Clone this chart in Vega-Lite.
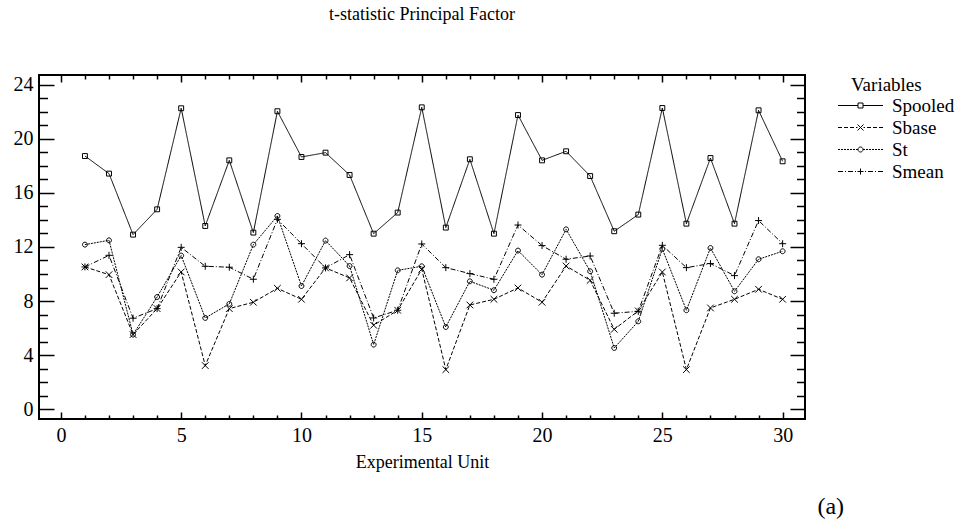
{
  "$schema": "https://vega.github.io/schema/vega-lite/v6.json",
  "width": 766,
  "height": 344,
  "autosize": {"type": "none"},
  "padding": {"left": 39, "top": 75, "right": 152, "bottom": 109},
  "background": "white",
  "config": {
    "view": {"stroke": "black", "strokeWidth": 2},
    "axis": {"grid": false, "domain": false, "tickColor": "black", "labelColor": "black", "titleColor": "black", "labelFont": "Liberation Serif", "titleFont": "Liberation Serif", "tickWidth": 1.5, "labelOverlap": false, "labelFlush": false}
  },
  "title": {"text": "t-statistic Principal Factor", "font": "Liberation Serif", "fontSize": 18, "fontWeight": "normal", "color": "black", "anchor": "middle", "offset": 50},
  "data": {"values": [
    {"unit":1,"variable":"Spooled","value":18.72},{"unit":2,"variable":"Spooled","value":17.42},{"unit":3,"variable":"Spooled","value":12.91},{"unit":4,"variable":"Spooled","value":14.78},{"unit":5,"variable":"Spooled","value":22.25},{"unit":6,"variable":"Spooled","value":13.55},{"unit":7,"variable":"Spooled","value":18.40},{"unit":8,"variable":"Spooled","value":13.06},{"unit":9,"variable":"Spooled","value":22.03},{"unit":10,"variable":"Spooled","value":18.65},
    {"unit":11,"variable":"Spooled","value":18.97},{"unit":12,"variable":"Spooled","value":17.32},{"unit":13,"variable":"Spooled","value":12.98},{"unit":14,"variable":"Spooled","value":14.54},{"unit":15,"variable":"Spooled","value":22.32},{"unit":16,"variable":"Spooled","value":13.43},{"unit":17,"variable":"Spooled","value":18.48},{"unit":18,"variable":"Spooled","value":12.98},{"unit":19,"variable":"Spooled","value":21.75},{"unit":20,"variable":"Spooled","value":18.40},
    {"unit":21,"variable":"Spooled","value":19.07},{"unit":22,"variable":"Spooled","value":17.24},{"unit":23,"variable":"Spooled","value":13.16},{"unit":24,"variable":"Spooled","value":14.39},{"unit":25,"variable":"Spooled","value":22.27},{"unit":26,"variable":"Spooled","value":13.72},{"unit":27,"variable":"Spooled","value":18.57},{"unit":28,"variable":"Spooled","value":13.72},{"unit":29,"variable":"Spooled","value":22.10},{"unit":30,"variable":"Spooled","value":18.33},
    {"unit":1,"variable":"Sbase","value":10.52},{"unit":2,"variable":"Sbase","value":9.95},{"unit":3,"variable":"Sbase","value":5.52},{"unit":4,"variable":"Sbase","value":7.44},{"unit":5,"variable":"Sbase","value":10.15},{"unit":6,"variable":"Sbase","value":3.23},{"unit":7,"variable":"Sbase","value":7.44},{"unit":8,"variable":"Sbase","value":7.91},{"unit":9,"variable":"Sbase","value":8.94},{"unit":10,"variable":"Sbase","value":8.13},
    {"unit":11,"variable":"Sbase","value":10.45},{"unit":12,"variable":"Sbase","value":9.71},{"unit":13,"variable":"Sbase","value":6.21},{"unit":14,"variable":"Sbase","value":7.32},{"unit":15,"variable":"Sbase","value":10.35},{"unit":16,"variable":"Sbase","value":2.93},{"unit":17,"variable":"Sbase","value":7.71},{"unit":18,"variable":"Sbase","value":8.13},{"unit":19,"variable":"Sbase","value":8.97},{"unit":20,"variable":"Sbase","value":7.91},
    {"unit":21,"variable":"Sbase","value":10.59},{"unit":22,"variable":"Sbase","value":9.53},{"unit":23,"variable":"Sbase","value":5.91},{"unit":24,"variable":"Sbase","value":7.27},{"unit":25,"variable":"Sbase","value":10.15},{"unit":26,"variable":"Sbase","value":2.93},{"unit":27,"variable":"Sbase","value":7.49},{"unit":28,"variable":"Sbase","value":8.13},{"unit":29,"variable":"Sbase","value":8.87},{"unit":30,"variable":"Sbase","value":8.13},
    {"unit":1,"variable":"St","value":12.17},{"unit":2,"variable":"St","value":12.49},{"unit":3,"variable":"St","value":5.52},{"unit":4,"variable":"St","value":8.30},{"unit":5,"variable":"St","value":11.36},{"unit":6,"variable":"St","value":6.75},{"unit":7,"variable":"St","value":7.79},{"unit":8,"variable":"St","value":12.17},{"unit":9,"variable":"St","value":14.29},{"unit":10,"variable":"St","value":9.11},
    {"unit":11,"variable":"St","value":12.47},{"unit":12,"variable":"St","value":10.59},{"unit":13,"variable":"St","value":4.78},{"unit":14,"variable":"St","value":10.27},{"unit":15,"variable":"St","value":10.57},{"unit":16,"variable":"St","value":6.08},{"unit":17,"variable":"St","value":9.46},{"unit":18,"variable":"St","value":8.80},{"unit":19,"variable":"St","value":11.73},{"unit":20,"variable":"St","value":9.95},
    {"unit":21,"variable":"St","value":13.30},{"unit":22,"variable":"St","value":10.20},{"unit":23,"variable":"St","value":4.53},{"unit":24,"variable":"St","value":6.50},{"unit":25,"variable":"St","value":11.85},{"unit":26,"variable":"St","value":7.32},{"unit":27,"variable":"St","value":11.92},{"unit":28,"variable":"St","value":8.72},{"unit":29,"variable":"St","value":11.09},{"unit":30,"variable":"St","value":11.68},
    {"unit":1,"variable":"Smean","value":10.52},{"unit":2,"variable":"Smean","value":11.38},{"unit":3,"variable":"Smean","value":6.73},{"unit":4,"variable":"Smean","value":7.44},{"unit":5,"variable":"Smean","value":11.97},{"unit":6,"variable":"Smean","value":10.57},{"unit":7,"variable":"Smean","value":10.50},{"unit":8,"variable":"Smean","value":9.61},{"unit":9,"variable":"Smean","value":14.04},{"unit":10,"variable":"Smean","value":12.24},
    {"unit":11,"variable":"Smean","value":10.45},{"unit":12,"variable":"Smean","value":11.43},{"unit":13,"variable":"Smean","value":6.75},{"unit":14,"variable":"Smean","value":7.32},{"unit":15,"variable":"Smean","value":12.22},{"unit":16,"variable":"Smean","value":10.47},{"unit":17,"variable":"Smean","value":10.03},{"unit":18,"variable":"Smean","value":9.61},{"unit":19,"variable":"Smean","value":13.62},{"unit":20,"variable":"Smean","value":12.10},
    {"unit":21,"variable":"Smean","value":11.09},{"unit":22,"variable":"Smean","value":11.33},{"unit":23,"variable":"Smean","value":7.10},{"unit":24,"variable":"Smean","value":7.24},{"unit":25,"variable":"Smean","value":12.12},{"unit":26,"variable":"Smean","value":10.47},{"unit":27,"variable":"Smean","value":10.77},{"unit":28,"variable":"Smean","value":9.88},{"unit":29,"variable":"Smean","value":13.95},{"unit":30,"variable":"Smean","value":12.24}
  ]},
  "resolve": {"axis": {"x": "independent", "y": "independent"}, "scale": {"shape": "independent"}, "legend": {"shape": "independent"}},
  "layer": [
    {
      "mark": {"type": "line", "color": "black", "strokeWidth": 1},
      "encoding": {
        "x": {"field": "unit", "type": "quantitative", "scale": {"domain": [-0.91, 30.93], "nice": false, "zero": false},
          "axis": {"orient": "bottom", "values": [0,1,2,3,4,5,6,7,8,9,10,11,12,13,14,15,16,17,18,19,20,21,22,23,24,25,26,27,28,29,30],
            "labelExpr": "datum.value % 5 === 0 ? datum.label : ''",
            "tickSize": {"condition": {"test": "datum.value % 5 === 0", "value": -7}, "value": -4},
            "labelPadding": 13, "labelFontSize": 20, "title": "Experimental Unit", "titleFontSize": 18, "titleFontWeight": "normal", "titlePadding": 5}},
        "y": {"field": "value", "type": "quantitative", "scale": {"domain": [-0.72, 24.71], "nice": false, "zero": false},
          "axis": {"orient": "left", "values": [0,1,2,3,4,5,6,7,8,9,10,11,12,13,14,15,16,17,18,19,20,21,22,23,24],
            "labelExpr": "datum.value % 4 === 0 ? datum.label : ''",
            "tickSize": {"condition": {"test": "datum.value % 4 === 0", "value": -15}, "value": -8.5},
            "labelPadding": 21, "labelFontSize": 20, "title": null}},
        "strokeDash": {"field": "variable", "type": "nominal", "scale": {"domain": ["Spooled", "Sbase", "St", "Smean"], "range": [[1, 0], [4, 2], [2, 1], [5, 2, 1, 2]]}, "legend": null}
      }
    },
    {
      "mark": {"type": "point", "filled": false, "stroke": "black", "strokeWidth": 1, "size": 49, "opacity": 1},
      "encoding": {
        "x": {"field": "unit", "type": "quantitative", "axis": null},
        "y": {"field": "value", "type": "quantitative", "axis": null},
        "shape": {"field": "variable", "type": "nominal", "legend": null, "scale": {"domain": ["Spooled", "Sbase", "St", "Smean"],
          "range": ["M-0.7,-0.7H0.7V0.7H-0.7Z", "M-0.95,-0.95L0.95,0.95M-0.95,0.95L0.95,-0.95", "M-0.7,0A0.7,0.7 0 1,0 0.7,0A0.7,0.7 0 1,0 -0.7,0", "M-1,0H1M0,-1V1"]}}
      }
    },
    {
      "transform": [{"filter": "false"}],
      "mark": {"type": "point", "opacity": 0},
      "encoding": {
        "x": {"field": "unit", "type": "quantitative",
          "axis": {"orient": "top", "values": [0,1,2,3,4,5,6,7,8,9,10,11,12,13,14,15,16,17,18,19,20,21,22,23,24,25,26,27,28,29,30], "labels": false, "title": null,
            "tickSize": {"condition": {"test": "datum.value % 5 === 0", "value": -7}, "value": -4}}},
        "y": {"field": "value", "type": "quantitative",
          "axis": {"orient": "right", "values": [0,1,2,3,4,5,6,7,8,9,10,11,12,13,14,15,16,17,18,19,20,21,22,23,24], "labels": false, "title": null,
            "tickSize": {"condition": {"test": "datum.value % 4 === 0", "value": -15}, "value": -8.5}}}
      }
    },
    {
      "transform": [{"filter": "false"}],
      "mark": {"type": "point", "filled": false, "stroke": "black", "strokeWidth": 1, "size": 64},
      "encoding": {
        "x": {"field": "unit", "type": "quantitative", "axis": null},
        "y": {"field": "value", "type": "quantitative", "axis": null},
        "shape": {"field": "variable", "type": "nominal", "scale": {"domain": ["Spooled", "Sbase", "St", "Smean"],
          "range": [
            "M-5.625,0H-0.625M0.625,0H5.625M-0.625,-0.625H0.625V0.625H-0.625Z",
            "M-5.625,0H-4.625M-4.125,0H-3.125M-2.625,0H-1.625M-1.125,0H-0.75M0.75,0H1.125M1.625,0H2.625M3.125,0H4.125M4.625,0H5.625M-0.75,-0.75L0.75,0.75M-0.75,0.75L0.75,-0.75",
            "M-5.625,0H-5.125M-4.875,0H-4.375M-4.125,0H-3.625M-3.375,0H-2.875M-2.625,0H-2.125M-1.875,0H-1.375M-1.125,0H-0.625M0.625,0H1.125M1.375,0H1.875M2.125,0H2.625M2.875,0H3.375M3.625,0H4.125M4.375,0H4.875M5.125,0H5.625M-0.625,0A0.625,0.625 0 1,0 0.625,0A0.625,0.625 0 1,0 -0.625,0",
            "M-5.625,0H-4.375M-3.875,0H-3.625M-3.125,0H-1.875M-1.375,0H-1.125M1.125,0H1.375M1.875,0H3.125M3.625,0H3.875M4.375,0H5.625M-0.75,0H0.75M0,-0.75V0.75"
          ]},
          "legend": {"orient": "none", "legendX": 812, "legendY": 1, "title": "Variables", "titleFont": "Liberation Serif", "titleFontSize": 19, "titleFontWeight": "normal", "titleColor": "black", "titleAnchor": "start", "titlePadding": 1,
            "labelFont": "Liberation Serif", "labelFontSize": 19, "labelColor": "black", "labelOffset": 22, "labelLimit": 0,
            "symbolSize": 64, "symbolStrokeWidth": 1, "symbolStrokeColor": "black", "symbolFillColor": "transparent", "symbolOpacity": 1, "rowPadding": 2}}
      }
    },
    {
      "data": {"values": [{"label": "(a)"}]},
      "mark": {"type": "text", "font": "Liberation Serif", "fontSize": 24, "fontWeight": "normal", "color": "black", "align": "center", "baseline": "middle"},
      "encoding": {
        "text": {"field": "label", "type": "nominal"},
        "x": {"datum": 32.0, "type": "quantitative", "axis": null},
        "y": {"datum": -7.24, "type": "quantitative", "axis": null}
      }
    }
  ]
}
